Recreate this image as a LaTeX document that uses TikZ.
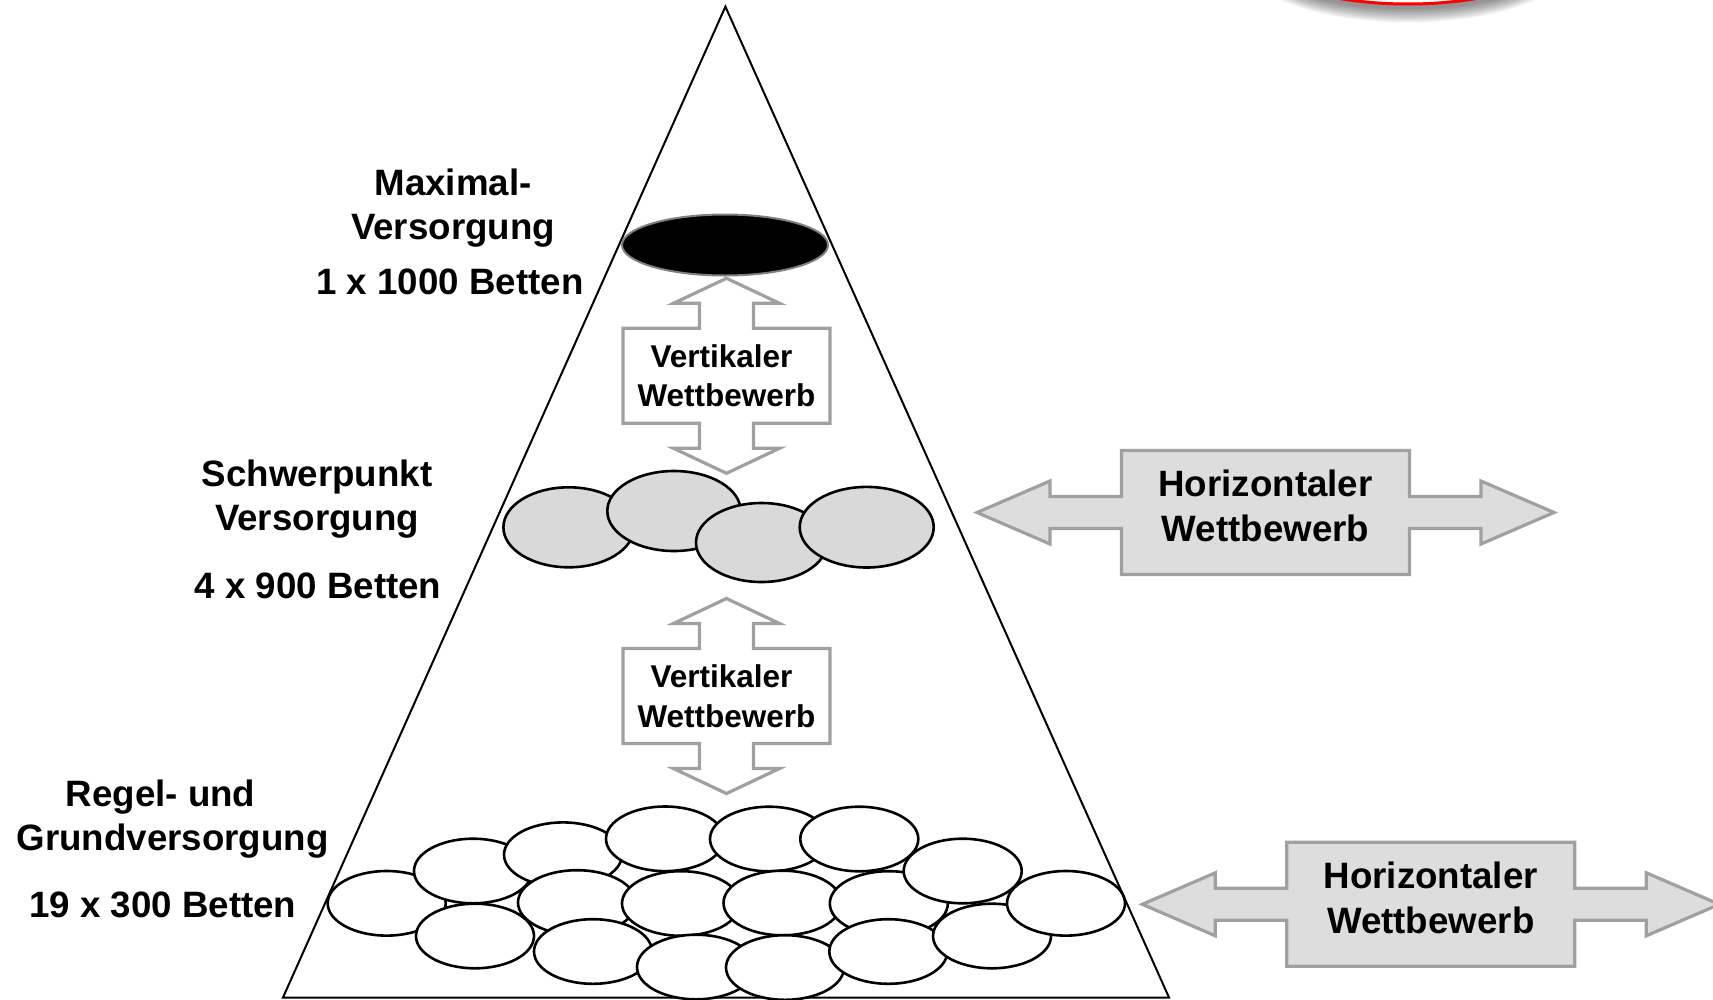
\documentclass[tikz,border=0pt]{standalone}
\usepackage{fontspec}
\setmainfont{Liberation Sans}
\usetikzlibrary{calc}
\definecolor{callgray}{HTML}{A0A0A0}
\definecolor{boxfill}{HTML}{DDDDDD}
\definecolor{ovalgray}{HTML}{D9D9D9}
\tikzset{
  tri/.style={draw=black, line width=2pt, line join=miter},
  whiteoval/.style={draw=black, line width=2.6pt, fill=white},
  grayoval/.style={draw=black, line width=2.6pt, fill=ovalgray},
  blackoval/.style={draw=gray, line width=2pt, fill=black},
  callout/.style={draw=callgray, line width=3.2pt, line join=miter},
  lbl/.style={font={\bfseries\fontsize{36.7}{44}\selectfont}, align=center, inner sep=0pt, text=black},
  vtext/.style={font={\bfseries\fontsize{31.5}{39.5}\selectfont}, align=center, inner sep=0pt, text=black},
  htext/.style={font={\bfseries\fontsize{36.7}{45}\selectfont}, align=center, inner sep=0pt, text=black}
}
\newcommand\vcallout[1]{%
  \begin{scope}[shift={(#1)}]
    \draw[callout, fill=white] (-103.5,-47.5) -- (-27,-47.5) -- (-27,-72.5) -- (-53,-72.5) -- (0,-97.5)
      -- (53,-72.5) -- (27,-72.5) -- (27,-47.5) -- (103.5,-47.5) -- (103.5,47.5) -- (27,47.5)
      -- (27,72.5) -- (53,72.5) -- (0,97.5) -- (-53,72.5) -- (-27,72.5) -- (-27,47.5)
      -- (-103.5,47.5) -- cycle;
  \end{scope}}
\newcommand\hcallout[1]{%
  \begin{scope}[shift={(#1)}]
    \draw[callout, fill=boxfill] (-144,-62) -- (144,-62) -- (144,-16) -- (215.5,-16) -- (215.5,-31.5)
      -- (288.5,0) -- (215.5,31.5) -- (215.5,16) -- (144,16) -- (144,62) -- (-144,62)
      -- (-144,16) -- (-215.5,16) -- (-215.5,31.5) -- (-288.5,0) -- (-215.5,-31.5)
      -- (-215.5,-16) -- (-144,-16) -- cycle;
  \end{scope}}
\begin{document}
\begin{tikzpicture}[x=1pt,y=-1pt]
\useasboundingbox (0,0) rectangle (1713,999);
\fill[white] (0,0) rectangle (1713,999);

% red ring with shadow (top right, cut off)
\foreach \i in {0,...,9} {
  \fill[black, opacity=0.05] (1408,-41) ellipse [x radius={150+1.8*\i}, y radius={50+1.5*\i}];
}
\draw[fill=white, draw=red, line width=3pt] (1408,-46) ellipse [x radius=150, y radius=50];

% pyramid
\coordinate (apex) at (725.4,6.6);
\coordinate (bl) at (283,997.5);
\coordinate (br) at (1169,997.5);
\draw[tri] (apex) -- (br) -- (bl) -- cycle;

% top level
\draw[blackoval] (725,245) ellipse [x radius=103, y radius=30.5];

% middle level
\draw[grayoval] (568.7,527.3) ellipse [x radius=65.3, y radius=40];
\draw[grayoval] (674,511) ellipse [x radius=66.7, y radius=40];
\draw[grayoval] (761.5,542.5) ellipse [x radius=65.5, y radius=39.5];
\draw[grayoval] (866.7,527.2) ellipse [x radius=67, y radius=40.3];

% bottom level
\foreach \cx/\cy in {386.7/903.3, 473/871, 475/936, 563/854.7, 577/902.5, 593/951.5,
  665/838.8, 681/903.5, 696/967, 769/839, 782.5/903, 785/967.5, 859.3/839,
  888.8/903.5, 888.3/951.5, 962.7/871, 992/936, 1066/903.3} {
  \draw[whiteoval] (\cx,\cy) ellipse [x radius=59, y radius=32.3];
}

% vertical competition callouts
\coordinate (vc1) at (726.5,375.8);
\coordinate (vc2) at (726.5,696);
\vcallout{vc1}
\vcallout{vc2}
\node[vtext] (vt1) at (vc1) {Vertikaler\hspace*{10pt}\\Wettbewerb};
\node[vtext] (vt2) at (vc2) {Vertikaler\hspace*{10pt}\\Wettbewerb};

% horizontal competition callouts
\coordinate (hc1) at (1265.5,512.5);
\coordinate (hc2) at (1430.8,904.3);
\hcallout{hc1}
\hcallout{hc2}
\node[htext] (ht1) at ($(hc1)+(0,-6.5)$) {Horizontaler\\Wettbewerb};
\node[htext] (ht2) at ($(hc2)+(0,-6.5)$) {Horizontaler\\Wettbewerb};

% level labels
\node[lbl] (l1) at (453,208) {Maximal-\\Versorgung};
\node[lbl] (l1b) at (450,282) {1 x 1000 Betten};
\node[lbl] (l2) at (317,499) {Schwerpunkt\\Versorgung};
\node[lbl] (l2b) at (318,585.6) {4 x 900 Betten};
\node[lbl] (l3) at (172.6,819) {Regel- und\hspace*{24pt}\\Grundversorgung};
\node[lbl] (l3b) at (162.8,904.6) {19 x 300 Betten};
\end{tikzpicture}
\end{document}
